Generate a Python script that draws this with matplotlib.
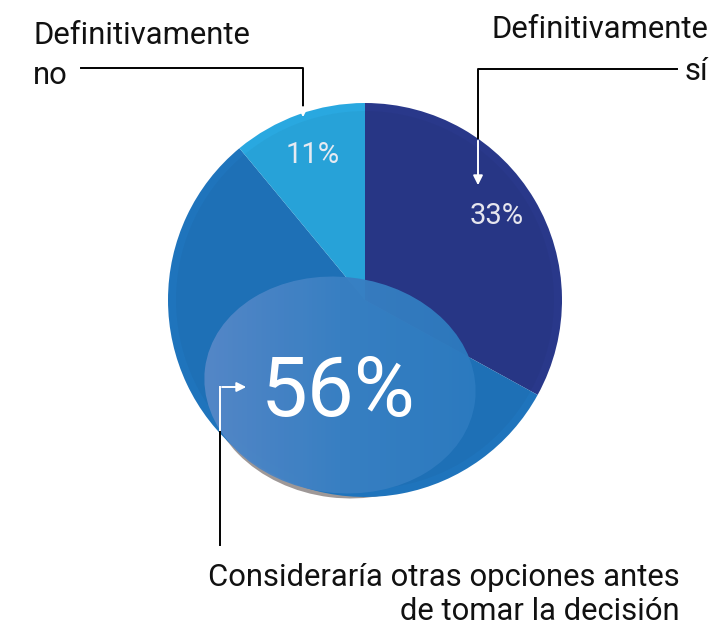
import matplotlib.pyplot as plt
import numpy as np
from matplotlib.patches import Ellipse, Circle
from matplotlib.colors import LinearSegmentedColormap

W, H = 713, 627

labels = ["Definitivamente sí", "Consideraría otras opciones antes de tomar la decisión", "Definitivamente no"]
values = [33, 56, 11]
pct_text = ["33%", "56%", "11%"]
colors = ["#29388a", "#1f74bc", "#29a8e0"]

plt.rcParams['font.family'] = ['Roboto', 'DejaVu Sans']

fig = plt.figure(figsize=(W / 100, H / 100), dpi=100)
ax = fig.add_axes([0, 0, 1, 1])


def Y(y):
    # picture y (down) -> data y (up)
    return H - y


cx, cy, r = 365, Y(300), 197

# shadow of the overlay ellipse, only shows outside the pie
shadow = Ellipse((343, Y(390)), 272, 216, angle=-7, facecolor="#9e9897",
                 edgecolor="none", zorder=1)
ax.add_patch(shadow)

wedges, _ = ax.pie(values, colors=colors, startangle=90, counterclock=False,
                   center=(cx, cy), radius=r, wedgeprops=dict(linewidth=0))
for w in wedges:
    w.set_zorder(2)

# slightly duller inner disc
ax.add_patch(Circle((cx, cy), r - 8, facecolor="black", alpha=0.03,
                    edgecolor="none", zorder=3))

# lighter overlay ellipse with a left-to-right gradient
ell = Ellipse((340, Y(385)), 272, 216, angle=-7, facecolor="none",
              edgecolor="none", zorder=4)
ax.add_patch(ell)
cmap = LinearSegmentedColormap.from_list("ov", ["#5889c8", "#3a80c3", "#2c7bc0"])
grad = np.linspace(0, 1, 256).reshape(1, -1)
im = ax.imshow(grad, cmap=cmap, extent=(200, 480, Y(500), Y(270)),
               aspect="auto", zorder=4, alpha=0.95)
im.set_clip_path(ell)

# percentages
ax.text(313, Y(155), pct_text[2], color="#e6eaf2", fontsize=21, ha="center",
        va="center", zorder=6)
ax.text(497, Y(216), pct_text[0], color="#e6e6ee", fontsize=21, ha="center",
        va="center", zorder=6)
ax.text(338, Y(393), pct_text[1], color="white", fontsize=60, ha="center",
        va="center", zorder=6)

# category labels
fs = 22.3
ax.text(33, Y(35), "Definitivamente", fontsize=fs, ha="left", va="center", color="#111111")
ax.text(33, Y(75), "no", fontsize=fs, ha="left", va="center", color="#111111")
ax.text(708, Y(30), "Definitivamente", fontsize=fs, ha="right", va="center", color="#111111")
ax.text(708, Y(71), "sí", fontsize=fs, ha="right", va="center", color="#111111")
ax.text(680, Y(577), "Consideraría otras opciones antes", fontsize=fs, ha="right",
        va="center", color="#111111")
ax.text(680, Y(611), "de tomar la decisión", fontsize=fs, ha="right", va="center",
        color="#111111")

# leader lines: black outside the pie, white inside
lw = 1.4
ax.plot([81, 303, 303], [Y(68), Y(68), Y(106)], color="black", lw=lw, zorder=7)
ax.annotate("", xy=(303, Y(120)), xytext=(303, Y(106)), zorder=7,
            arrowprops=dict(arrowstyle="-|>", color="white", lw=lw, mutation_scale=14))
ax.plot([677, 478, 478], [Y(69), Y(69), Y(138)], color="black", lw=lw, zorder=7)
ax.annotate("", xy=(478, Y(188)), xytext=(478, Y(138)), zorder=7,
            arrowprops=dict(arrowstyle="-|>", color="white", lw=lw, mutation_scale=14))
ax.plot([220, 220], [Y(545), Y(430)], color="black", lw=lw, zorder=7)
ax.plot([220, 220], [Y(430), Y(387)], color="white", lw=lw, zorder=7)
ax.annotate("", xy=(249, Y(387)), xytext=(219.3, Y(387)), zorder=7,
            arrowprops=dict(arrowstyle="-|>", color="white", lw=lw, mutation_scale=14))

ax.set_xlim(0, W)
ax.set_ylim(0, H)
ax.set_aspect("equal")
ax.axis("off")

fig.savefig("out.png", dpi=100)
